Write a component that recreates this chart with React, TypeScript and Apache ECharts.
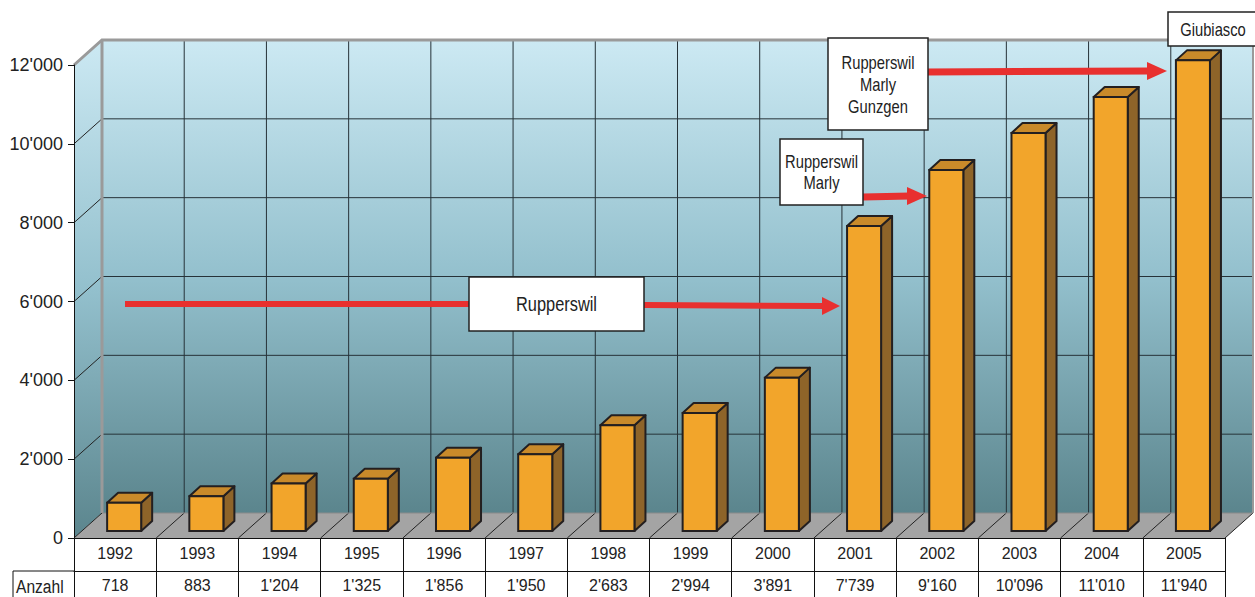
import React, { useEffect, useRef } from 'react';
import * as echarts from 'echarts';

const years = ['1992', '1993', '1994', '1995', '1996', '1997', '1998', '1999', '2000', '2001', '2002', '2003', '2004', '2005'];
const counts = [718, 883, 1204, 1325, 1856, 1950, 2683, 2994, 3891, 7739, 9160, 10096, 11010, 11940];
const yTicks = [0, 2000, 4000, 6000, 8000, 10000, 12000];
const rowLabel = 'Anzahl';
const noteTexts = [['Rupperswil'], ['Rupperswil', 'Marly'], ['Rupperswil', 'Marly', 'Gunzgen'], ['Giubiasco']];

const FONT = '"Liberation Sans", Arial, sans-serif';
const fmt = (v: number | string) => String(v).replace(/\B(?=(\d{3})+(?!\d))/g, "'");
const DX = 28;
const DY = -25;

function hasFont(name: string): boolean {
  try {
    const c = document.createElement('canvas').getContext('2d');
    if (!c) return false;
    const s = 'Rupperswil 1992 Anzahl';
    c.font = '40px monospace';
    const a = c.measureText(s).width;
    c.font = `40px "${name}", monospace`;
    const b = c.measureText(s).width;
    return Math.abs(a - b) > 0.5;
  } catch (e) {
    return false;
  }
}

export default function App() {
  const ref = useRef<HTMLDivElement>(null);
  useEffect(() => {
    if (!ref.current) return;
    const narrow = hasFont('Liberation Sans Narrow');
    const NF = narrow ? '"Liberation Sans Narrow", "Liberation Sans", Arial, sans-serif' : FONT;
    const sq = narrow ? 1 : 0.82;
    const chart = echarts.init(ref.current, null, { renderer: 'svg' });
    const stroke = '#231f20';
    const labelSize = narrow ? 19 : 16;
    const option: any = {
      animation: false,
      backgroundColor: '#ffffff',
      grid: { left: 74, right: 30, top: 65, bottom: 59 },
      xAxis: [
        {
          type: 'category', data: years, position: 'bottom',
          axisLine: { show: true, lineStyle: { color: '#111', width: 1 } },
          axisTick: { show: true, length: 33, lineStyle: { color: '#111', width: 1 } },
          axisLabel: { fontSize: labelSize, color: '#222', margin: 7, fontFamily: NF },
          splitLine: { show: false },
        },
        {
          type: 'category', data: counts.map(fmt), position: 'bottom', offset: 33,
          axisLine: { show: true, lineStyle: { color: '#111', width: 1 } },
          axisTick: { show: true, length: 30, lineStyle: { color: '#111', width: 1 } },
          axisLabel: { fontSize: labelSize, color: '#222', margin: 6, fontFamily: NF },
          splitLine: { show: false },
        },
      ],
      yAxis: {
        type: 'value', min: yTicks[0], max: yTicks[yTicks.length - 1], interval: yTicks[1] - yTicks[0],
        axisLine: { show: true, lineStyle: { color: '#111', width: 1 } },
        axisTick: { show: true, length: 6, lineStyle: { color: '#111' } },
        axisLabel: { formatter: (v: number) => fmt(v), fontSize: 18, color: '#222', margin: 11, fontFamily: FONT },
        splitLine: { show: false },
      },
      series: [
        {
          type: 'custom', z: 5, xAxisIndex: 0, yAxisIndex: 0,
          data: counts.map((v, i) => [i, v]),
          encode: { x: 0, y: 1 },
          renderItem: (params: any, api: any) => {
            const i = api.value(0);
            const v = api.value(1);
            const base = api.coord([i, 0]);
            const top = api.coord([i, v]);
            const bw = api.size([1, 0])[0];
            const fw = bw * 0.414;
            const ox = bw * 0.11;
            const oy = -7;
            const sx = 11, sy = -10;
            const x0 = base[0] + ox - fw / 2;
            const x1 = x0 + fw;
            const yb = base[1] + oy;
            const yt = top[1] + oy;
            return {
              type: 'group',
              children: [
                { type: 'polygon', shape: { points: [[x1, yt], [x1 + sx, yt + sy], [x1 + sx, yb + sy], [x1, yb]] }, style: { fill: '#8e6429', stroke, lineWidth: 2, lineJoin: 'round' } },
                { type: 'polygon', shape: { points: [[x0, yt], [x1, yt], [x1 + sx, yt + sy], [x0 + sx, yt + sy]] }, style: { fill: '#c98a2a', stroke, lineWidth: 2, lineJoin: 'round' } },
                { type: 'rect', shape: { x: x0, y: yt, width: fw, height: yb - yt }, style: { fill: '#f2a52b', stroke, lineWidth: 2 } },
              ],
            };
          },
        },
      ],
    };
    chart.setOption(option);

    const p0 = chart.convertToPixel({ gridIndex: 0 }, [0, 0]) as number[];
    const p1 = chart.convertToPixel({ gridIndex: 0 }, [1, 0]) as number[];
    const band = p1[0] - p0[0];
    const L = p0[0] - band / 2;
    const R = L + band * years.length;
    const yPx = (v: number) => (chart.convertToPixel({ gridIndex: 0 }, [0, v]) as number[])[1];
    const y0 = yPx(yTicks[0]);
    const yT = yPx(yTicks[yTicks.length - 1]);

    const grad = new echarts.graphic.LinearGradient(0, 0, 0, 1, [
      { offset: 0, color: '#cce9f3' },
      { offset: 0.5, color: '#93c0cd' },
      { offset: 1, color: '#5b858d' },
    ]);
    const bgZ = -10;
    const els: any[] = [];
    els.push({ type: 'rect', z: bgZ, shape: { x: L + DX, y: yT + DY, width: R - L, height: y0 - yT }, style: { fill: grad } });
    els.push({ type: 'polygon', z: bgZ, shape: { points: [[L, yT], [L + DX, yT + DY], [L + DX, y0 + DY], [L, y0]] }, style: { fill: grad } });
    els.push({ type: 'polygon', z: bgZ + 1, shape: { points: [[L, y0], [R, y0], [R + DX, y0 + DY], [L + DX, y0 + DY]] }, style: { fill: '#a4a4a4' } });
    yTicks.forEach((t, idx) => {
      const y = yPx(t);
      if (idx > 0 && idx < yTicks.length - 1) {
        els.push({ type: 'line', z: bgZ + 2, shape: { x1: L + DX, y1: y + DY, x2: R + DX, y2: y + DY }, style: { stroke: '#263238', lineWidth: 1 } });
      }
      if (idx < yTicks.length - 1) {
        els.push({ type: 'line', z: bgZ + 2, shape: { x1: L, y1: y, x2: L + DX, y2: y + DY }, style: { stroke: '#222', lineWidth: 1 } });
      }
    });
    for (let i = 1; i <= years.length; i++) {
      const x = L + i * band;
      if (i < years.length) {
        els.push({ type: 'line', z: bgZ + 2, shape: { x1: x + DX, y1: yT + DY, x2: x + DX, y2: y0 + DY }, style: { stroke: '#263238', lineWidth: 1 } });
      }
      els.push({ type: 'line', z: bgZ + 3, shape: { x1: x, y1: y0, x2: x + DX, y2: y0 + DY }, style: { stroke: '#222', lineWidth: 1 } });
    }
    els.push({ type: 'polyline', z: bgZ + 3, shape: { points: [[L, yT], [L + DX, yT + DY], [R + DX + 4, yT + DY]] }, style: { stroke: '#9a9a9a', lineWidth: 3, fill: null } });
    els.push({ type: 'line', z: bgZ + 3, shape: { x1: L + DX, y1: yT + DY, x2: L + DX, y2: y0 + DY }, style: { stroke: '#9a9a9a', lineWidth: 3 } });
    els.push({ type: 'line', z: bgZ + 3, shape: { x1: R + DX, y1: yT + DY, x2: R + DX, y2: y0 + DY }, style: { stroke: '#9a9a9a', lineWidth: 2 } });
    els.push({ type: 'line', z: bgZ + 3, shape: { x1: L + DX, y1: y0 + DY, x2: R + DX, y2: y0 + DY }, style: { stroke: '#8a8a8a', lineWidth: 1 } });

    const yRow2 = y0 + 33;
    els.push({ type: 'line', z: 20, shape: { x1: 13, y1: yRow2, x2: L, y2: yRow2 }, style: { stroke: '#111', lineWidth: 1 } });
    els.push({ type: 'line', z: 20, shape: { x1: 13, y1: yRow2, x2: 13, y2: 600 }, style: { stroke: '#111', lineWidth: 1 } });
    els.push({ type: 'text', z: 20, x: 16, y: yRow2 + 15, scaleX: sq, style: { x: 0, y: 0, text: rowLabel, fontSize: 19, fontFamily: NF, fill: '#222', verticalAlign: 'middle' } });

    const red = '#e8302f';
    const AZ = 50;
    const box = (x: number, y: number, w: number, h: number) => ({ type: 'rect', z: AZ + 1, shape: { x, y, width: w, height: h }, style: { fill: '#fff', stroke: '#222', lineWidth: 1.5 } });
    const txt = (x: number, y: number, lines: string[], size: number, lh: number) => ({
      type: 'text', z: AZ + 2, x, y, scaleX: sq,
      style: { x: 0, y: 0, text: lines.join('\n'), fontSize: size, lineHeight: lh, fontFamily: NF, fill: '#222', align: 'center', verticalAlign: 'middle' },
    });
    const redLine = (x1: number, y1: number, x2: number, y2: number, w: number) => ({ type: 'line', z: AZ, shape: { x1, y1, x2, y2 }, style: { stroke: red, lineWidth: w } });
    const head = (tx: number, ty: number, len: number, half: number) => ({ type: 'polygon', z: AZ, shape: { points: [[tx, ty], [tx - len, ty - half], [tx - len, ty + half]] }, style: { fill: red } });

    els.push(redLine(125, 304, 470, 304, 6));
    els.push(redLine(644, 305, 826, 306, 6));
    els.push(head(840, 306, 18, 9));
    els.push(box(469, 277, 175, 54));
    els.push(txt(556.5, 304, noteTexts[0], 20, 22));

    els.push(redLine(863, 197, 910, 196, 7));
    els.push(head(927, 196, 20, 9));
    els.push(box(780, 139, 83, 66));
    els.push(txt(821.5, 172, noteTexts[1], 18, 21));

    els.push(redLine(928, 72, 1150, 71, 7));
    els.push(head(1167, 71, 20, 9));
    els.push(box(828, 38, 100, 92));
    els.push(txt(878, 84, noteTexts[2], 18, 22));

    els.push(box(1168, 12, 90, 34));
    els.push(txt(1213, 29, noteTexts[3], 18, 20));

    chart.setOption({ graphic: { elements: els } });
    return () => chart.dispose();
  }, []);
  return <div ref={ref} style={{ position: 'fixed', left: 0, top: 0, width: 1255, height: 597, background: '#fff' }} />;
}
